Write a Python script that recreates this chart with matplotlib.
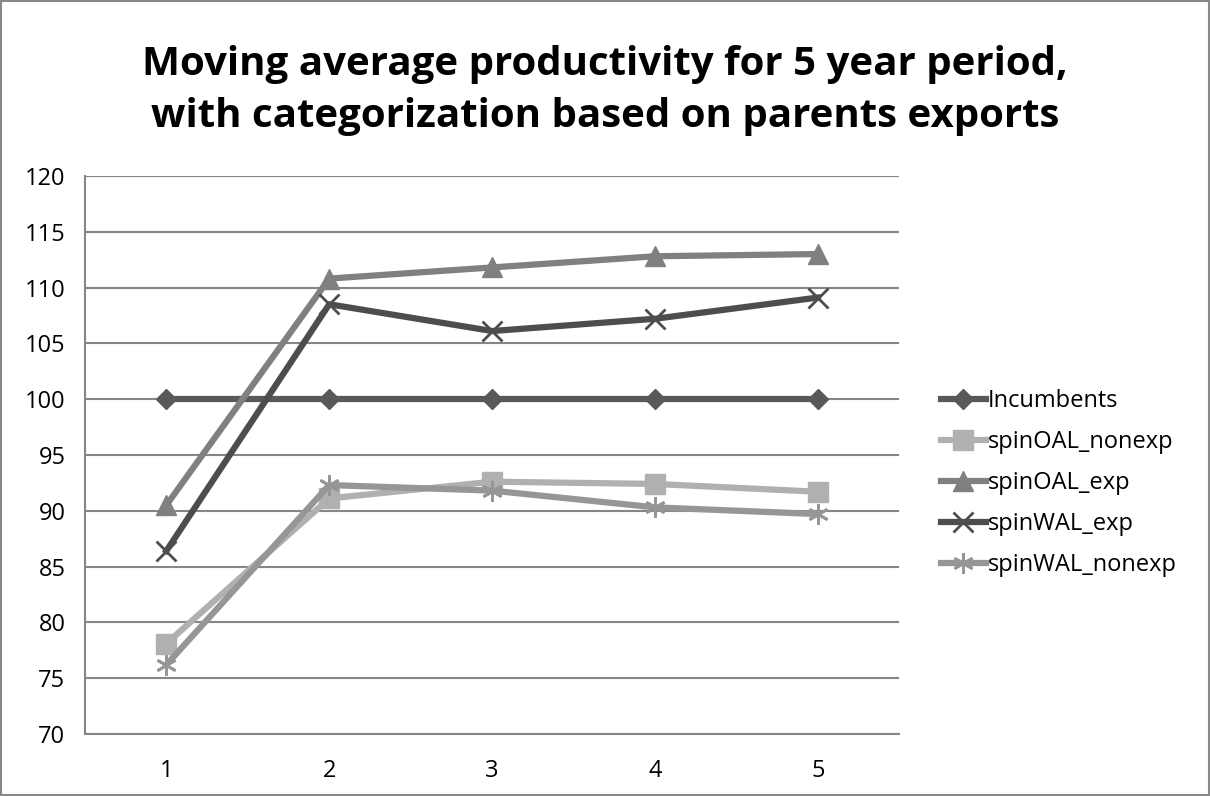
import matplotlib.pyplot as plt
from matplotlib.patches import Rectangle

plt.rcParams['font.family'] = ['Open Sans', 'DejaVu Sans']

periods = [1, 2, 3, 4, 5]

incumbents = [100, 100, 100, 100, 100]
spin_oal_nonexp = [78.1, 91.1, 92.6, 92.4, 91.7]
spin_oal_exp = [90.5, 110.8, 111.8, 112.8, 113.0]
spin_wal_exp = [86.4, 108.5, 106.1, 107.2, 109.1]
spin_wal_nonexp = [76.2, 92.3, 91.8, 90.3, 89.7]

fig = plt.figure(figsize=(12.1, 7.96), dpi=100)
ax = fig.add_axes([0.0702, 0.078, 0.673, 0.701])

# cadre gris autour du graphique
fig.patches.append(Rectangle((0.001, 0.001), 0.998, 0.998, transform=fig.transFigure,
                             fill=False, edgecolor='#888888', linewidth=1.5))

lw = 4.5
ax.plot(periods, incumbents, color='#595959', lw=lw, marker='D', ms=10,
        label='Incumbents')
ax.plot(periods, spin_oal_nonexp, color='#b0b0b0', lw=lw, marker='s', ms=14,
        label='spinOAL_nonexp')
ax.plot(periods, spin_oal_exp, color='#808080', lw=lw, marker='^', ms=15,
        label='spinOAL_exp')
ax.plot(periods, spin_wal_exp, color='#4d4d4d', lw=lw, marker='x', ms=15, mew=2,
        label='spinWAL_exp')
ax.plot(periods, spin_wal_nonexp, color='#969696', lw=lw, marker=(6, 2, 0), ms=15, mew=2,
        label='spinWAL_nonexp')

ax.set_xlim(0.5, 5.5)
ax.set_ylim(70, 120)
ax.set_xticks(periods)
ax.set_yticks(range(70, 121, 5))
ax.tick_params(length=0, labelsize=17)
ax.tick_params(axis='x', pad=18)
ax.tick_params(axis='y', pad=14)
ax.grid(axis='y', color='#868686', linewidth=1.5)
ax.set_axisbelow(True)
for s in ['top', 'right']:
    ax.spines[s].set_visible(False)
for s in ['left', 'bottom']:
    ax.spines[s].set_color('#868686')
    ax.spines[s].set_linewidth(1.5)

fig.text(0.5, 0.886, 'Moving average productivity for 5 year period,\nwith categorization based on parents exports',
         ha='center', va='center', fontsize=29, fontweight='bold', linespacing=1.45)

ax.legend(loc='center left', bbox_to_anchor=(1.025, 0.45), frameon=False, fontsize=17,
          handlelength=1.9, handletextpad=0.1, labelspacing=0.72)

fig.savefig('out.png', dpi=100)
